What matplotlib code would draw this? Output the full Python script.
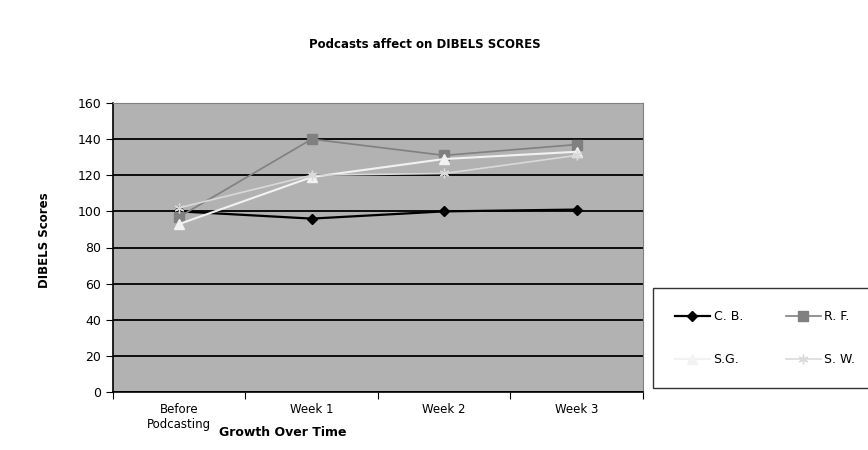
import matplotlib
matplotlib.use("Agg")
import matplotlib.pyplot as plt

categories = ["Before\nPodcasting", "Week 1", "Week 2", "Week 3"]
series_names = ["C. B.", "R. F.", "S.G.", "S. W."]
cb = [100, 96, 100, 101]
rf = [97, 140, 131, 137]
sg = [93, 119, 129, 133]
sw = [102, 120, 121, 131]
yticks = [0, 20, 40, 60, 80, 100, 120, 140, 160]

plt.rcParams['font.family'] = ['DejaVu Sans']

fig = plt.figure(figsize=(8.68, 4.5), dpi=100)
ax = fig.add_axes([113/868, 58/450, 530/868, 289/450])
ax.set_facecolor("#b2b2b2")

x = list(range(len(categories)))
styles = [
    dict(color="black", marker="D", markersize=5, lw=1.6),
    dict(color="#808080", marker="s", markersize=7, lw=1.2),
    dict(color="#f2f2f2", marker="^", markersize=7, lw=1.5),
    dict(color="#d9d9d9", marker=(6, 2, 0), markersize=7, lw=1.2),
]
lines = []
for name, vals, st in zip(series_names, [cb, rf, sg, sw], styles):
    ln, = ax.plot(x, vals, label=name, zorder=3, **st)
    lines.append(ln)

ax.set_ylim(0, 160)
ax.set_xlim(-0.5, 3.5)
ax.set_yticks(yticks)
ax.yaxis.grid(True, color="black", lw=1.3, zorder=1)
ax.set_axisbelow(True)
ax.set_xticks([-0.5, 0.5, 1.5, 2.5, 3.5])
ax.set_xticklabels([])
ax.set_xticks(x, minor=True)
ax.set_xticklabels(categories, minor=True, fontsize=8.5)
ax.tick_params(axis="x", which="minor", length=0, pad=8)
ax.tick_params(axis="x", which="major", direction="out", length=5, color="black")
ax.tick_params(axis="y", direction="out", length=5, labelsize=9)
for s in ["top", "right"]:
    ax.spines[s].set_color("#808080")
for s in ["left", "bottom"]:
    ax.spines[s].set_color("black")
    ax.spines[s].set_linewidth(1.2)

fig.text(425/868, 1 - 45/450, "Podcasts affect on DIBELS SCORES", ha="center", va="center",
         fontsize=8.5, fontweight="bold")
fig.text(45/868, 1 - 240/450, "DIBELS Scores", ha="center", va="center", rotation=90,
         fontsize=8.5, fontweight="bold")
fig.text(283/868, 1 - 432/450, "Growth Over Time", ha="center", va="center",
         fontsize=9, fontweight="bold")

# order so that rows read C.B., R.F. / S.G., S.W.
order = [0, 2, 1, 3]
leg = fig.legend([lines[i] for i in order], [series_names[i] for i in order],
                 loc="upper left", bbox_to_anchor=(653/868, 1 - 288/450),
                 ncol=2, frameon=True, fancybox=False, fontsize=9,
                 handlelength=2.8, borderaxespad=0, labelspacing=2.4, borderpad=1.75,
                 handletextpad=0.3, columnspacing=3.4)
leg.get_frame().set_edgecolor("black")
leg.get_frame().set_linewidth(1.0)

fig.savefig("out.png", dpi=100)
